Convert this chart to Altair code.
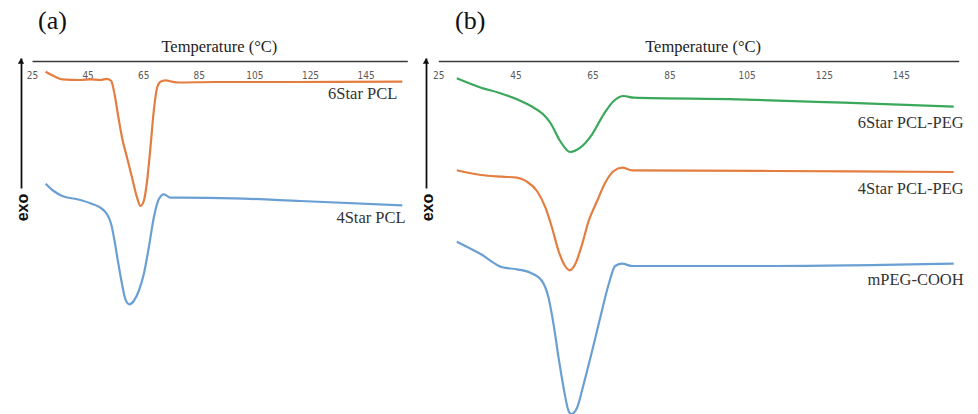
import altair as alt
import pandas as pd

# ---------------- data (heat flow in arbitrary units, exo up) ----------------
ticks = [25, 45, 65, 85, 105, 125, 145]

a6_T = [29.9, 32.8, 35.9, 42.4, 46.0, 49.6, 52.0, 53.5, 54.7, 55.9, 57.4, 59.2, 61.0, 62.8,
        64.0, 65.2, 66.4, 67.6, 68.8, 70.0, 71.2, 73.0, 75.4, 77.8, 90.0, 120.0, 158.2]
a6_v = [-1.07, -1.50, -1.83, -1.90, -1.83, -1.90, -1.78, -2.00, -3.33, -5.33, -7.67, -9.67,
        -11.67, -13.67, -14.50, -14.00, -12.00, -8.67, -5.00, -2.67, -2.07, -1.93, -2.07,
        -2.15, -2.10, -2.10, -2.07]

a4_T = [29.9, 32.8, 35.9, 41.3, 46.0, 49.6, 52.0, 53.5, 54.7, 55.9, 57.4, 58.6, 60.1, 61.6,
        63.4, 65.2, 67.0, 68.8, 70.6, 72.4, 74.8, 78.4, 97.6, 121.6, 158.2]
a4_v = [-12.27, -13.00, -13.50, -13.83, -14.23, -14.67, -15.33, -16.33, -18.00, -20.00,
        -22.33, -23.83, -24.33, -24.00, -23.00, -21.33, -18.67, -15.67, -13.83, -13.33,
        -13.67, -13.67, -13.73, -14.00, -14.43]

b6_T = [29.8, 36.1, 40.7, 45.4, 49.0, 52.2, 54.1, 56.6, 59.2, 61.8, 64.9, 67.9, 70.5,
        73.1, 75.7, 102.6, 130.2, 158.7]
b6_v = [-1.73, -2.67, -3.17, -3.83, -4.50, -5.33, -6.20, -8.00, -9.10, -8.67, -7.33,
        -5.33, -4.00, -3.50, -3.67, -3.83, -4.17, -4.57]

b4_T = [29.8, 36.1, 41.6, 45.4, 48.0, 50.6, 52.8, 54.5, 56.2, 57.9, 59.1, 60.5, 62.3, 64.0,
        66.2, 68.3, 70.5, 72.7, 75.3, 111.8, 158.7]
b4_v = [-10.93, -11.40, -11.57, -11.67, -12.07, -13.00, -14.67, -16.67, -19.00, -20.50,
        -20.93, -20.33, -18.33, -16.00, -14.00, -12.17, -11.00, -10.67, -10.93, -11.00, -11.10]

bm_T = [29.8, 36.1, 41.6, 45.4, 48.9, 51.9, 53.6, 54.9, 56.2, 57.5, 58.8, 59.5, 61.0, 62.7,
        64.9, 67.0, 69.2, 70.9, 72.7, 75.3, 111.8, 158.7]
bm_v = [-18.07, -19.33, -20.63, -20.83, -21.17, -22.00, -23.67, -26.33, -29.67, -32.67,
        -35.00, -35.30, -34.67, -32.33, -29.00, -25.67, -22.33, -20.50, -20.27, -20.50,
        -20.50, -20.27]

a_labels = ["6Star PCL", "4Star PCL"]
a_label_T = [156.4, 159.4]
a_label_v = [-3.33, -15.67]

b_labels = ["6Star PCL-PEG", "4Star PCL-PEG", "mPEG-COOH"]
b_label_T = [161.3, 161.3, 161.3]
b_label_v = [-6.23, -12.77, -21.93]

ORANGE = "#e47d40"
BLUE = "#6a9fd4"
GREEN = "#3aa85a"

all_names = ["6Star PCL", "4Star PCL", "6Star PCL-PEG", "4Star PCL-PEG", "mPEG-COOH"]
all_colors = [ORANGE, BLUE, GREEN, ORANGE, BLUE]


def series_df(pairs):
    rows = []
    for name, T, v in pairs:
        for t, val in zip(T, v):
            rows.append({"series": name, "T": t, "v": val})
    return pd.DataFrame(rows)


def panel(pairs, labels, label_T, label_v, xrange, width, tag, tag_dx, title_x, exo_x):
    df = series_df(pairs)
    xs = alt.Scale(domain=[25, 160], range=xrange, nice=False, zero=False)
    ys = alt.Scale(domain=[-12.7, 0.3], range=[127, -3], nice=False, zero=False)
    xaxis = alt.Axis(orient="top", values=ticks, ticks=False, tickSize=0, grid=False,
                     domainColor="#3a3a3a", domainWidth=1.5,
                     labelPadding=-14, labelBaseline="middle", labelFontSize=10,
                     labelColor="#5a5a5a", labelFlush=False, labelOverlap=False,
                     labelFont="Liberation Sans Narrow, DejaVu Sans Condensed, sans-serif",
                     title="Temperature (\u00b0C)", titleFont="Liberation Serif",
                     titleFontSize=16.5, titleFontWeight="normal", titleColor="#222222",
                     titleX=title_x, titleY=-15, titleAlign="center", titleBaseline="middle")
    yaxis = alt.Axis(orient="left", ticks=False, labels=False, grid=False,
                     domainColor="#111111", domainWidth=1.8,
                     title="exo", titleFont="Liberation Sans", titleFontWeight="bold",
                     titleFontSize=16, titleColor="#111111", titleAngle=270,
                     titleX=exo_x, titleY=146, titleAlign="center", titleBaseline="middle")
    lines = alt.Chart(df).mark_line(interpolate="monotone", strokeWidth=2.2).encode(
        x=alt.X("T:Q", scale=xs, axis=xaxis),
        y=alt.Y("v:Q", scale=ys, axis=yaxis),
        color=alt.Color("series:N", scale=alt.Scale(domain=all_names, range=all_colors),
                        legend=None),
    )
    ldf = pd.DataFrame({"label": labels, "T": label_T, "v": label_v})
    texts = alt.Chart(ldf).mark_text(font="Liberation Serif", fontSize=16.5, align="right",
                                     baseline="middle", color="#333333").encode(
        x=alt.X("T:Q", scale=xs), y=alt.Y("v:Q", scale=ys), text="label:N")
    head = alt.Chart(pd.DataFrame({"v": [0.0]})).mark_point(
        shape="triangle-up", filled=True, size=40, color="#111111", opacity=1).encode(
        x=alt.value(0), y=alt.Y("v:Q", scale=ys))
    return alt.layer(lines, texts, head).properties(
        width=width, height=352,
        title=alt.TitleParams(tag, anchor="start", frame="group", dx=tag_dx, offset=4,
                              font="Liberation Serif", fontSize=26, fontWeight="normal",
                              color="#111111"))


pa = panel([("6Star PCL", a6_T, a6_v), ("4Star PCL", a4_T, a4_v)],
           a_labels, a_label_T, a_label_v, [11, 386.3], 386.3, "(a)", 17, 197.8, 1.5)
pb = panel([("6Star PCL-PEG", b6_T, b6_v), ("4Star PCL-PEG", b4_T, b4_v),
            ("mPEG-COOH", bm_T, bm_v)],
           b_labels, b_label_T, b_label_v, [12.3, 532.7], 533, "(b)", 29, 276.6, 1)

chart = alt.hconcat(pa, pb, spacing=11).properties(
    padding={"left": 14, "top": 8, "right": 0, "bottom": 0},
    background="white",
).configure_view(strokeWidth=0)

chart.save("out.html", embed_options={"renderer": "svg", "actions": False})
